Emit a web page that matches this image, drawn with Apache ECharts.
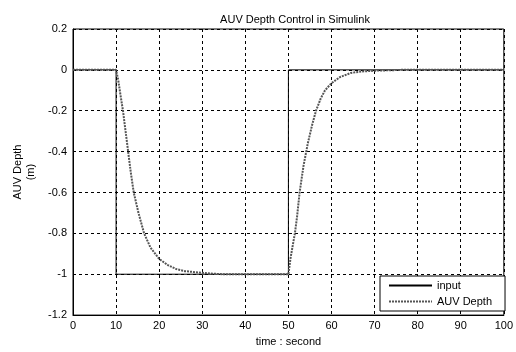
<!DOCTYPE html>
<html><head><meta charset="utf-8">
<script src="https://cdn.jsdelivr.net/npm/echarts@6/dist/echarts.min.js"></script>
<style>html,body{margin:0;padding:0;background:#fff}#c{width:516px;height:352px}</style>
</head><body><div id="c"></div>
<script>
var titleText = 'AUV Depth Control in Simulink';
var xName = 'time : second';
var yName = 'AUV Depth\n(m)';
var inputT = [0, 10, 10, 50, 50, 100];
var inputV = [0, 0, -1, -1, 0, 0];
var depthT = [0, 10, 10.5, 11, 11.6, 12.2, 12.8, 13.4, 14.1, 15.2, 16.5, 18, 20, 22, 24, 26, 28.4, 32, 35, 50,
  50.5, 51, 51.5, 52, 52.6, 53.5, 54.5, 55.5, 56.4, 57.5, 58.5, 60, 62, 64.5, 67, 70, 75, 76, 100];
var depthV = [0, 0, -0.05, -0.12, -0.2, -0.3, -0.4, -0.5, -0.6, -0.7, -0.8, -0.87, -0.925, -0.955, -0.975, -0.985, -0.99, -0.997, -1, -1,
  -0.92, -0.86, -0.8, -0.72, -0.6, -0.47, -0.36, -0.27, -0.2, -0.14, -0.1, -0.065, -0.035, -0.015, -0.008, -0.004, -0.001, 0, 0];
var seriesNames = ['input', 'AUV Depth'];

function pairs(t, v) { return t.map(function (x, i) { return [x, v[i]]; }); }
var font = 'Liberation Sans, Arial, sans-serif';
var chart = echarts.init(document.getElementById('c'));
chart.setOption({
  animation: false,
  backgroundColor: '#fff',
  textStyle: { fontFamily: font },
  title: { text: titleText, left: 290, top: 9, textAlign: 'center',
    textStyle: { fontSize: 11, fontWeight: 'normal', color: '#000', fontFamily: font } },
  grid: { left: 73, right: 8, top: 29, bottom: 31, show: true, borderColor: '#000', borderWidth: 1, backgroundColor: '#fff' },
  legend: {
    orient: 'vertical', left: 380, top: 276, backgroundColor: '#fff', borderColor: '#000', borderWidth: 1,
    padding: [4, 13, 4, 8], itemGap: 5, itemWidth: 43, itemHeight: 12,
    itemStyle: { opacity: 0, color: 'rgba(0,0,0,0)', borderWidth: 0 },
    textStyle: { fontSize: 11, color: '#000', fontFamily: font },
    data: seriesNames
  },
  xAxis: {
    type: 'value', min: 0, max: 100, interval: 10,
    name: xName, nameLocation: 'middle', nameGap: 20,
    nameTextStyle: { fontSize: 11, color: '#000', fontFamily: font },
    axisLine: { show: true, onZero: false, lineStyle: { color: '#000' } },
    axisTick: { show: false },
    axisLabel: { color: '#000', fontSize: 11, margin: 5, fontFamily: font },
    splitLine: { show: true, lineStyle: { color: '#000', type: [3, 3], width: 1 } }
  },
  yAxis: {
    type: 'value', min: -1.2, max: 0.2, interval: 0.2,
    name: yName, nameLocation: 'middle', nameGap: 36, nameRotate: 90,
    nameTextStyle: { fontSize: 11, color: '#000', fontFamily: font, lineHeight: 13 },
    axisLine: { show: true, onZero: false, lineStyle: { color: '#000' } },
    axisTick: { show: false },
    axisLabel: { color: '#000', fontSize: 11, margin: 6, fontFamily: font,
      formatter: function (v) { return String(+v.toFixed(1)); } },
    splitLine: { show: true, lineStyle: { color: '#000', type: [3, 3], width: 1 } }
  },
  series: [
    { name: seriesNames[0], type: 'line', data: pairs(inputT, inputV), symbol: 'none',
      lineStyle: { color: '#000', width: 1, type: 'solid' }, itemStyle: { color: '#000' }, z: 3 },
    { name: seriesNames[1], type: 'line', data: pairs(depthT, depthV), symbol: 'none',
      lineStyle: { color: '#555', width: 2, type: [2, 1] }, itemStyle: { color: '#555' }, z: 4 }
  ]
});
</script></body></html>
